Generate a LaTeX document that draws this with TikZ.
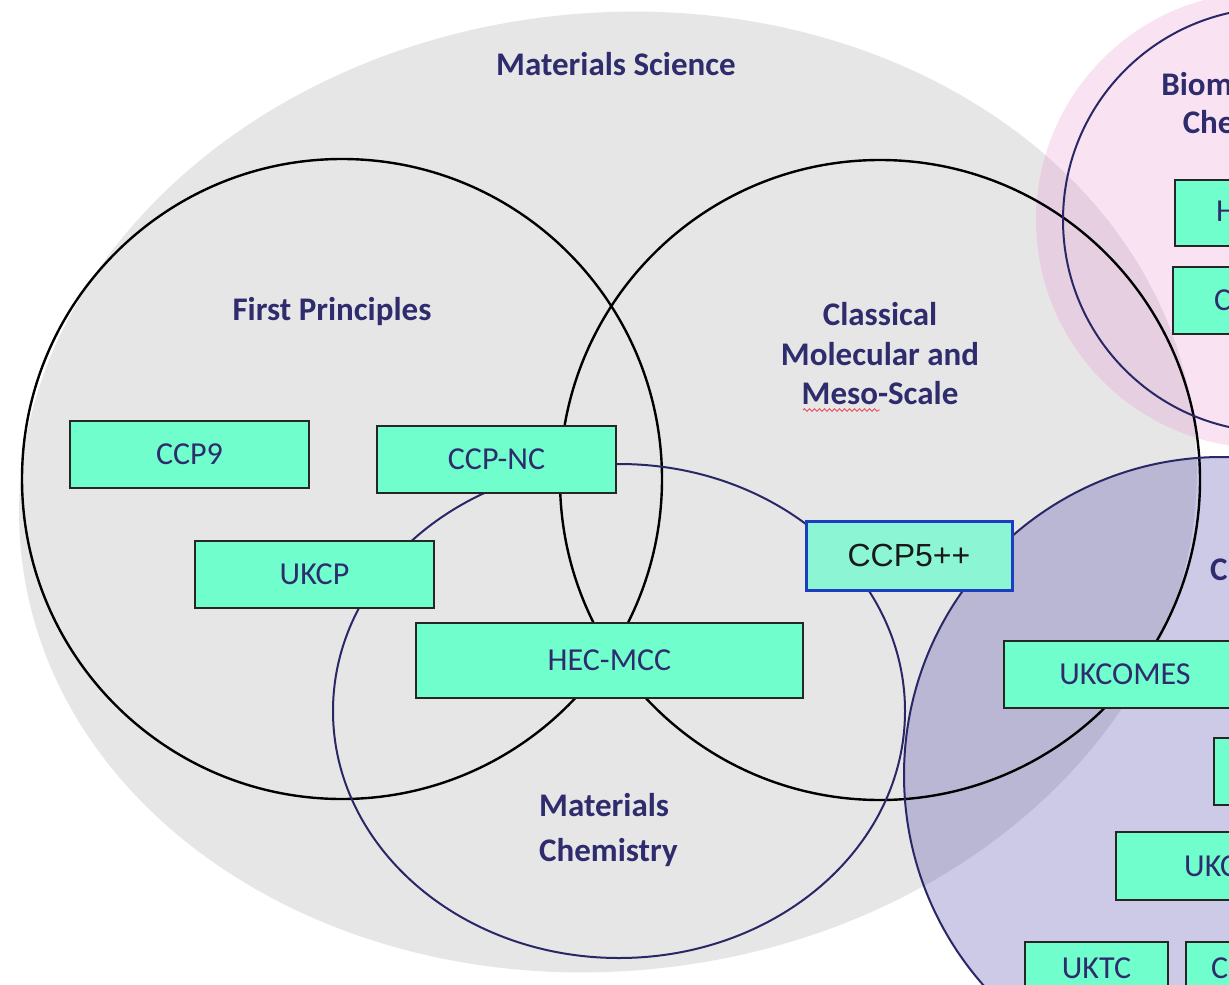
\documentclass[tikz,border=0pt]{standalone}
\usepackage{fontspec}
\setmainfont{Carlito}
\newfontfamily\arialfont{Liberation Sans}
\usetikzlibrary{decorations.pathmorphing}
\definecolor{msgray}{HTML}{E6E6E6}
\definecolor{navy}{HTML}{2F2C6E}
\definecolor{navyline}{HTML}{2A2766}
\definecolor{aqua}{HTML}{70FFCC}
\definecolor{aqualight}{HTML}{8CF6D4}
\definecolor{ccpblue}{HTML}{1C3DC0}
\definecolor{pinkfill}{HTML}{E68AD1}
\definecolor{purplefill}{HTML}{2E229B}
\definecolor{squiggle}{HTML}{E8505B}
\tikzset{
  ringblack/.style={draw=black, line width=2.4pt},
  ringnavy/.style={draw=navyline, line width=2pt},
  prog/.style={draw=black!85, line width=1.3pt, fill=aqua, text=navy,
    font=\fontsize{32}{38}\selectfont, inner sep=0pt, anchor=center},
  progtext/.style={text=navy, font=\fontsize{32}{38}\selectfont, inner sep=0pt, anchor=west},
  area/.style={text=navy, font=\fontsize{33}{40}\selectfont\bfseries, inner sep=0pt, align=center},
}
\begin{document}
\begin{tikzpicture}[x=1pt,y=-1pt]
\useasboundingbox (0,0) rectangle (1229,985);
\clip (0,0) rectangle (1229,985);
\fill[white] (0,0) rectangle (1229,985);
% Materials Science background
\fill[msgray, rotate around={6:(608,492)}] (608,492) ellipse [x radius=590pt, y radius=479pt];
% Biomolecular and computational engineering fills
\fill[pinkfill, fill opacity=0.24] (1264,220) circle (228pt);
\fill[purplefill, fill opacity=0.24] (1222,775) circle (318pt);
% rings
\draw[ringblack] (342,479) circle (320pt);
\draw[ringblack] (880,480) circle (320pt);
\draw[ringnavy] (619,711) ellipse [x radius=286pt, y radius=247pt];
\draw[ringnavy] (1275,220) circle (212pt);
\draw[ringnavy] (1222,775) circle (318pt);
% programme boxes
\node[prog, minimum width=239pt, minimum height=67pt] (ccp9) at (189.5,454.5) {CCP9};
\node[prog, minimum width=239pt, minimum height=67pt] (ccpnc) at (496.5,459.5) {CCP-NC};
\node[prog, minimum width=239pt, minimum height=67pt] (ukcp) at (314.5,574.5) {UKCP};
\node[prog, minimum width=387pt, minimum height=75pt] (hecmcc) at (609.5,660.5) {HEC-MCC};
\node[prog, draw=ccpblue, line width=3pt, fill=aqualight, text=black!90,
  font=\arialfont\fontsize{32}{38}\selectfont, minimum width=206pt, minimum height=69pt] (ccp5) at (909,555.5) {CCP5++};
\node[prog, minimum width=242pt, minimum height=67pt] (ukcomes) at (1125,674.5) {UKCOMES};
\node[prog, minimum width=239pt, minimum height=67pt] (boxr) at (1333.5,771.5) {};
\node[prog, minimum width=239pt, minimum height=68pt] (boxukc) at (1235.5,866) {};
\node[progtext] (tukc) at (1184,866) {UKC};
\node[prog, minimum width=143pt, minimum height=62pt] (uktc) at (1096.5,973) {};
\node[progtext, anchor=center] (tuktc) at (1096.5,968) {UKTC};
\node[prog, minimum width=239pt, minimum height=62pt] (boxc) at (1305.5,973) {};
\node[progtext] (tc) at (1211,968) {C};
\node[prog, minimum width=239pt, minimum height=66pt] (boxh) at (1294.5,213) {};
\node[progtext] (th) at (1216,211) {H};
\node[prog, minimum width=239pt, minimum height=67pt] (boxc2) at (1292.5,300.5) {};
\node[progtext] (tc2) at (1214,300) {C};
% area labels
\node[area] (ms) at (616,64) {Materials Science};
\node[area] (fp) at (332,312) {First Principles};
\node[area, font=\fontsize{33}{39.5}\selectfont\bfseries] (cm) at (880,354) {Classical\\Molecular and\\Meso-Scale};
\node[area, align=left, anchor=north west, font=\fontsize{33}{45}\selectfont\bfseries] (mc) at (539,793) {Materials\\Chemistry};
\node[area, font=\fontsize{33}{38}\selectfont\bfseries] (bio) at (1252,106) {Biomolecular\\Chemistry};
\node[area, anchor=west] (ce) at (1210,570) {C};
% spelling squiggle under Meso
\draw[squiggle, line width=0.9pt, decorate, decoration={snake, amplitude=1.3pt, segment length=5pt}] (803,410) -- (880,410);
\end{tikzpicture}
\end{document}
